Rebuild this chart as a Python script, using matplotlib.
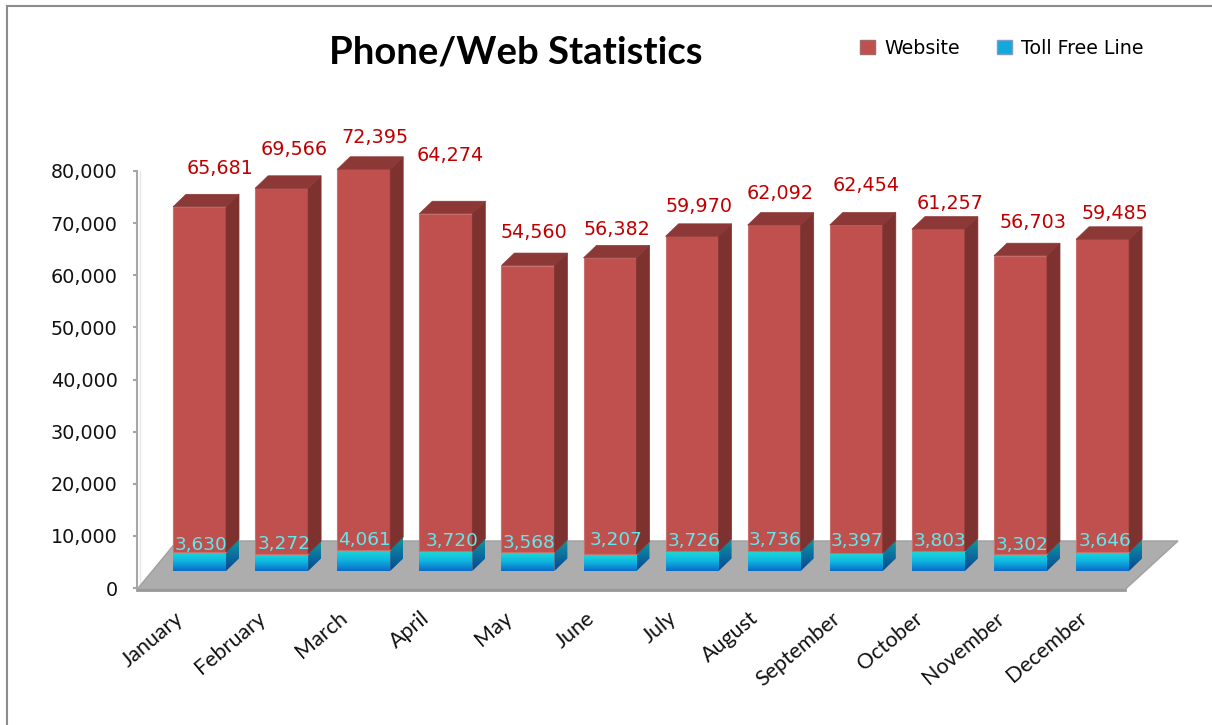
import matplotlib
matplotlib.use("Agg")
import matplotlib.pyplot as plt
import numpy as np
from matplotlib.colors import LinearSegmentedColormap
from matplotlib.lines import Line2D
from matplotlib.patches import Patch, Polygon

months = ["January", "February", "March", "April", "May", "June", "July",
          "August", "September", "October", "November", "December"]
website = [65681, 69566, 72395, 64274, 54560, 56382, 59970, 62092, 62454, 61257, 56703, 59485]
toll_free = [3630, 3272, 4061, 3720, 3568, 3207, 3726, 3736, 3397, 3803, 3302, 3646]
y_ticks = [0, 10000, 20000, 30000, 40000, 50000, 60000, 70000, 80000]

# hand placed labels in the original, pixels from the front top of each bar
web_nudge = [(20, 38), (13, 39), (11, 32), (4, 58), (6, 33), (7, 28), (7, 30), (6, 32), (10, 39), (12, 26), (13, 33), (12, 26)]
toll_nudge = [(1, 7), (3, 10), (1, 10), (6, 10), (1, 9), (6, 14), (2, 10), (1, 11), (1, 12), (2, 10), (2, 9), (2, 11)]

W, H = 1212, 725
fig = plt.figure(figsize=(W / 100, H / 100), dpi=100)
ax = fig.add_axes([137 / W, 1 - 588 / H, (1178 - 137) / W, (588 - 171) / H])

px_x = 82.1            # pixels per category
px_y = 52.1 / 10000    # pixels per value
xlim = ((137 - 199.5) / px_x, (1178 - 199.5) / px_x)
ylim = (0, 80000)

bar_w = 53 / px_x
dx = 13 / px_x         # fake 3d depth
dy = 12.5 / px_y
base = 17 / px_y       # bars stand on the floor, above the zero line
stretch = 1.008

blue = LinearSegmentedColormap.from_list("blue", ["#1bdcd6", "#0fb4e0", "#0a6cc8"])
blue_side = LinearSegmentedColormap.from_list("blue_side", ["#0e9a9a", "#0b6fa0", "#06478c"])


def gradient(cmap, pts, top, bottom):
    im = ax.imshow(np.linspace(0, 1, 64).reshape(-1, 1), cmap=cmap, aspect="auto",
                   extent=(min(p[0] for p in pts), max(p[0] for p in pts), bottom, top),
                   origin="upper", zorder=3)
    clip = Polygon(pts, closed=True, transform=ax.transData)
    im.set_clip_path(clip)


# wall + floor
ax.plot([3 / px_x + xlim[0]] * 2, [0, 80000], color="#e6e6e6", lw=1, zorder=0, clip_on=False)
floor_back = 47 / px_y
floor = Polygon([(xlim[0], -1.5 / px_y), ((1125 - 199.5) / px_x, -1.5 / px_y), (xlim[1], floor_back),
                 ((177 - 199.5) / px_x, floor_back)],
                closed=True, facecolor="#adadad", edgecolor="#a0a0a0", lw=1, zorder=1, clip_on=False)
ax.add_patch(floor)
ax.plot([xlim[0], (1125 - 199.5) / px_x], [-1.5 / px_y] * 2, color="#999999", lw=2, zorder=1, clip_on=False)

for i, (w, t) in enumerate(zip(website, toll_free)):
    l = i - bar_w / 2
    r = i + bar_w / 2
    t_top = base + t * stretch
    w_top = t_top + w * stretch

    # toll free part
    front = [(l, base), (r, base), (r, t_top), (l, t_top)]
    side = [(r, base), (r + dx, base + dy), (r + dx, t_top + dy), (r, t_top)]
    gradient(blue, front, t_top, base)
    gradient(blue_side, side, t_top + dy, base)

    # website part
    ax.bar(i, w * stretch, bar_w, bottom=t_top, color="#c0504d", edgecolor="#c8706d", lw=0.8, zorder=4, clip_on=False)
    ax.fill([r, r + dx, r + dx, r], [t_top, t_top + dy, w_top + dy, w_top],
            color="#7e3230", lw=0.5, zorder=4, clip_on=False)
    ax.fill([l, l + dx, r + dx, r], [w_top, w_top + dy, w_top + dy, w_top],
            color="#8c3836", lw=0.5, zorder=4, clip_on=False)

    ax.annotate(f"{w:,}", (i, w_top), xytext=web_nudge[i], textcoords="offset pixels",
                ha="center", va="center", color="#c00000", fontsize=13.8, zorder=6, annotation_clip=False)
    ax.annotate(f"{t:,}", (i, t_top), xytext=toll_nudge[i], textcoords="offset pixels",
                ha="center", va="center", color="#5fe9ee", fontsize=13.3, zorder=6, annotation_clip=False)

ax.set_xlim(xlim)
ax.set_ylim(ylim)
for s in ["top", "right", "bottom"]:
    ax.spines[s].set_visible(False)
ax.spines["left"].set_color("#a6a6a6")
ax.spines["left"].set_linewidth(1.5)
ax.patch.set_alpha(0)

ax.set_yticks(y_ticks)
ax.set_yticklabels([f"{v:,}" for v in y_ticks], fontsize=13.8, color="#111111")
ax.tick_params(axis="y", length=3, width=1.5, color="#a6a6a6", pad=11)
ax.set_xticks(range(12))
ax.set_xticklabels([])
ax.tick_params(axis="x", length=0)
for i, m in enumerate(months):
    ax.annotate(m, (i, 0), xytext=(-25, -20), textcoords="offset pixels", rotation=40,
                rotation_mode="anchor", ha="right", va="top", fontsize=15.5,
                family="Lato", color="#111111", annotation_clip=False)

fig.text(516 / W, 1 - 53 / H, "Phone/Web Statistics", ha="center", va="center",
         fontsize=27.5, fontweight="bold", family="Lato", color="black")

handles = [Patch(facecolor="#c0504d", edgecolor="#9d6a69", label="Website"),
           Patch(facecolor="#12a9dc", edgecolor="#7f9cc8", label="Toll Free Line")]
fig.legend(handles=handles, ncols=2, frameon=False, fontsize=13.7, handlelength=0.8, handleheight=0.8,
           handletextpad=0.5, columnspacing=1.9, loc="center right", bbox_to_anchor=(1161 / W, 1 - 48 / H))

# outer chart border, only top and left fall inside the crop
fig.add_artist(Line2D([7 / W, 7 / W], [0, 1 - 6 / H], color="#8c8c8c", lw=1.5))
fig.add_artist(Line2D([7 / W, 1], [1 - 6 / H, 1 - 6 / H], color="#8c8c8c", lw=1.5))

fig.savefig("out.png", dpi=100)
